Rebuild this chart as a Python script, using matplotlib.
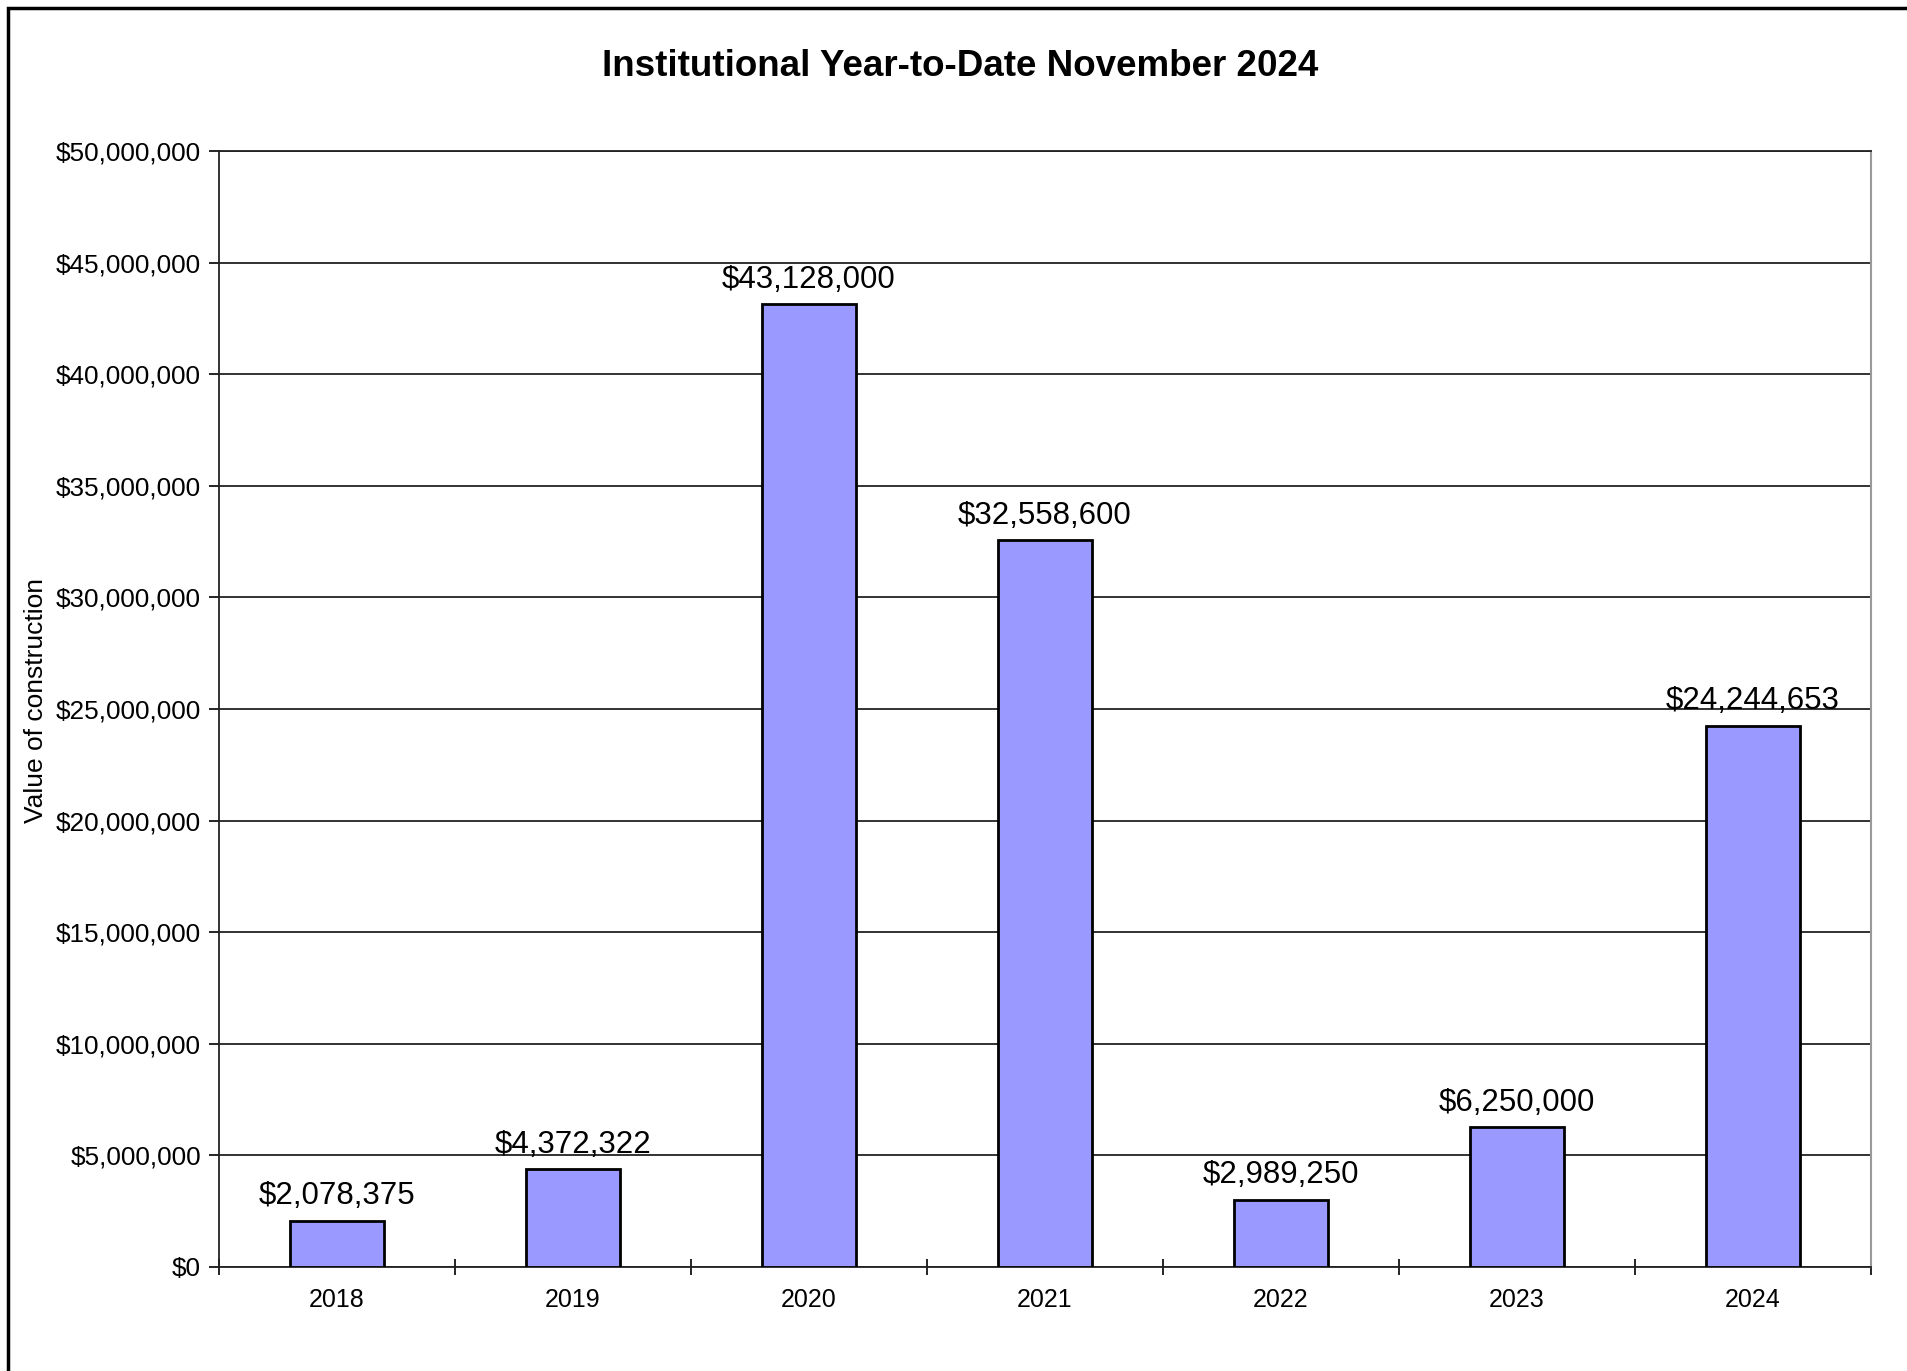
import numpy as np
import matplotlib
matplotlib.use("Agg")
import matplotlib.pyplot as plt
from matplotlib.patches import Rectangle
from matplotlib.ticker import FuncFormatter

plt.rcParams['font.family'] = ['Liberation Sans', 'DejaVu Sans']

years = ['2018', '2019', '2020', '2021', '2022', '2023', '2024']
values = [2078375, 4372322, 43128000, 32558600, 2989250, 6250000, 24244653]
title = 'Institutional Year-to-Date November 2024'
ylabel = 'Value of construction'

fig = plt.figure(figsize=(19.08, 13.71), dpi=100)
ax = fig.add_axes([0.1148, 0.0759, 0.9806 - 0.1148, 0.8899 - 0.0759])

x = np.arange(len(years))
bars = ax.bar(x, values, width=0.4, color='#9999FF', edgecolor='black', linewidth=2, zorder=3)

for xi, v in zip(x, values):
    ax.annotate('${:,.0f}'.format(v), (xi, v), xytext=(0, 7), textcoords='offset points',
                ha='center', va='bottom', fontsize=22.5)

ax.set_xlim(-0.5, len(years) - 0.5)
ax.set_ylim(0, 50000000)
ax.set_yticks(np.arange(0, 50000001, 5000000))
ax.yaxis.set_major_formatter(FuncFormatter(lambda v, p: '${:,.0f}'.format(v)))
ax.set_xticks(x)
ax.set_xticklabels(years)
ax.set_xticks(np.arange(-0.5, len(years), 1), minor=True)
ax.tick_params(axis='x', which='major', length=0, labelsize=18, pad=15)
ax.tick_params(axis='x', which='minor', length=12, direction='inout', width=1.2)
ax.tick_params(axis='y', length=7, width=1.2, labelsize=18.8, pad=6)

ax.grid(axis='y', color='#222222', linewidth=1.3, zorder=0)
ax.set_axisbelow(True)
for s in ['left', 'bottom', 'top']:
    ax.spines[s].set_linewidth(1.3)
    ax.spines[s].set_color('#222222')
ax.spines['right'].set_color('#999999')
ax.spines['right'].set_linewidth(1.5)

ax.set_ylabel(ylabel, fontsize=19, va='center')
ax.yaxis.set_label_coords(-0.1105, 0.508)
fig.text(0.503, 1 - 67 / 1371, title, ha='center', va='center', fontsize=26.5,
         fontweight='bold')

# outer chart frame (cut off at right and bottom in the reference)
fig.patches.append(Rectangle((8 / 1908, -0.05), 1.1, 1.05 - 8 / 1371, transform=fig.transFigure,
                             fill=False, edgecolor='black', linewidth=2.5, clip_on=False))

fig.savefig('out.png', dpi=100)
